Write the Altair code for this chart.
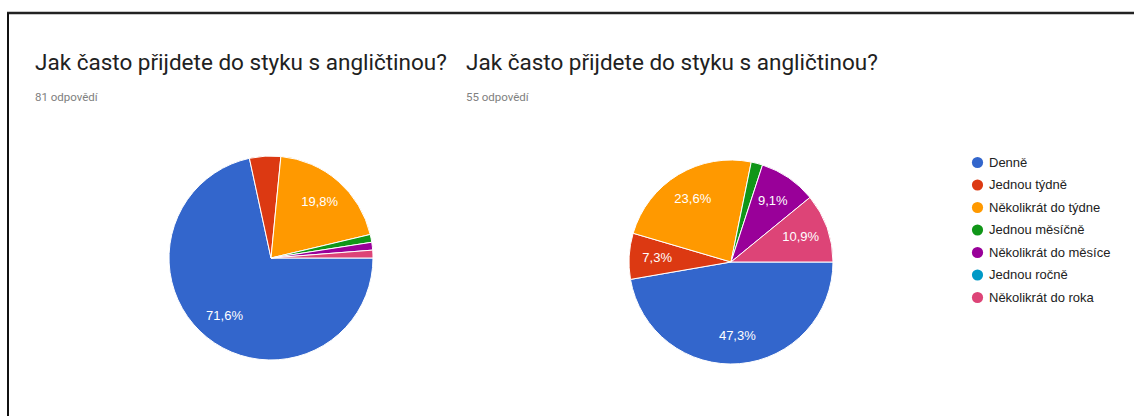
import math
import pandas as pd
import altair as alt

# ---- data ----
categories = ["Denně", "Jednou týdně", "Několikrát do týdne", "Jednou měsíčně",
              "Několikrát do měsíce", "Jednou ročně", "Několikrát do roka"]
colors = ["#3366cc", "#dc3912", "#ff9900", "#109618", "#990099", "#0099c6", "#dd4477"]
counts_left = [58, 4, 16, 1, 1, 0, 1]      # 81 responses
counts_right = [26, 4, 13, 1, 5, 0, 6]     # 55 responses
title_text = "Jak často přijdete do styku s angličtinou?"
sub_left = "81 odpovědí"
sub_right = "55 odpovědí"
label_min_pct = 5.0

W, H = 1134, 416
R = 102


def frame(counts):
    total = sum(counts)
    rows = []
    for i, (c, n) in enumerate(zip(categories, counts)):
        pct = n / total * 100
        lab = (f"{pct:.1f}".replace(".", ",") + "%") if pct >= label_min_pct else ""
        rows.append({"cat": c, "n": n, "frac": n / total, "idx": i, "label": lab})
    return pd.DataFrame(rows)


theta_scale = alt.Scale(domain=[0, 1], range=[math.pi / 2, math.pi / 2 + 2 * math.pi])
color_scale = alt.Scale(domain=categories, range=colors)
legend = alt.Legend(orient="none", legendX=971, legendY=156, title=None,
                    symbolType="circle", symbolSize=125, symbolStrokeWidth=0,
                    labelFont="Liberation Sans", labelFontSize=13, labelColor="#222222",
                    rowPadding=8.5, labelOffset=5)


def pie(df, cx, cy):
    base = alt.Chart(df).transform_filter("datum.n > 0").encode(
        theta=alt.Theta("frac:Q", stack=True, scale=theta_scale),
        order=alt.Order("idx:Q"),
        x=alt.value(cx), y=alt.value(cy),
    )
    arcs = base.mark_arc(radius=R, stroke="white", strokeWidth=1).encode(
        color=alt.Color("cat:N", scale=color_scale, legend=legend)
    )
    text = base.mark_text(radius=74, font="Liberation Sans", fontSize=13,
                          color="white").encode(text="label:N", detail="cat:N")
    return alt.layer(arcs, text)


def label(text, x, y, size, color, font):
    return alt.Chart(pd.DataFrame({"t": [text]})).mark_text(
        align="left", baseline="alphabetic", fontSize=size, color=color, font=font
    ).encode(text="t:N", x=alt.value(x), y=alt.value(y))


one = pd.DataFrame({"a": [0]})
top_border = alt.Chart(one).mark_rule(color="#222222", strokeWidth=2.5).encode(
    x=alt.value(7), x2=alt.value(W), y=alt.value(13))
left_border = alt.Chart(one).mark_rule(color="#111111", strokeWidth=2).encode(
    x=alt.value(8), y=alt.value(13), y2=alt.value(H))

chart = alt.layer(
    top_border, left_border,
    label(title_text, 35, 70, 22.5, "#212121", "Roboto"),
    label(sub_left, 35, 101, 11.5, "#808080", "Roboto"),
    label(title_text, 466, 70, 22.5, "#212121", "Roboto"),
    label(sub_right, 466, 101, 11.5, "#808080", "Roboto"),
    pie(frame(counts_left), 271, 258),
    pie(frame(counts_right), 731, 262),
).properties(
    width=W, height=H, padding=0,
    autosize=alt.AutoSizeParams(type="none"),
).configure_view(stroke=None)

chart.save("out.html", embed_options={"renderer": "svg", "actions": False})
